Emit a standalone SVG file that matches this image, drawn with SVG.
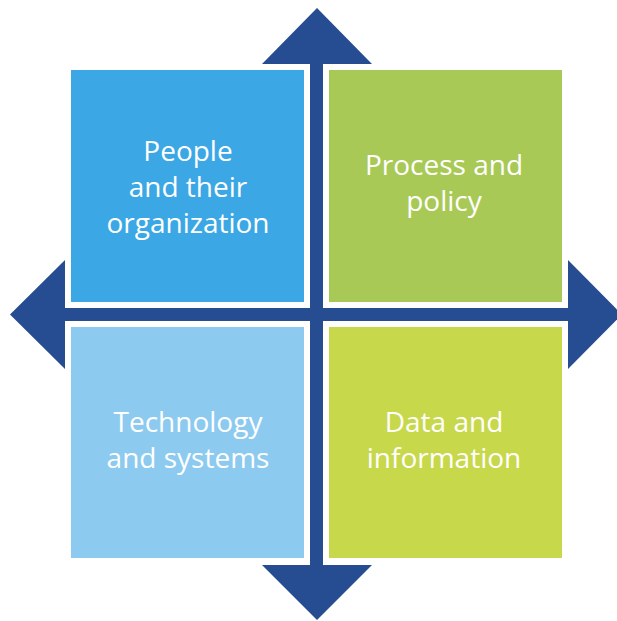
<svg xmlns="http://www.w3.org/2000/svg" width="617" height="621" viewBox="0 0 617 621">
  <style>
    .arrow { fill: #264C92; }
    .frame { fill: #FFFFFF; }
    .label { font-family: "Open Sans", "Noto Sans", "Liberation Sans", sans-serif; font-size: 28px; fill: #FFFFFF; text-anchor: middle; }
  </style>
  <rect width="617" height="621" fill="#FFFFFF"/>
  <g id="connectors">
    <rect class="arrow" x="310" y="40" width="13" height="550"/>
    <rect class="arrow" x="40" y="307.5" width="550" height="14"/>
    <polygon class="arrow" points="262,64 317,8 372,64"/>
    <polygon class="arrow" points="66,259 10,314.5 66,370"/>
    <polygon class="arrow" points="567,259 622,314.5 567,370"/>
    <polygon class="arrow" points="262,565 317,620 372,565"/>
  </g>
  <g id="people">
    <rect class="frame" x="65" y="64" width="245" height="244"/>
    <rect x="71" y="70" width="233" height="232" fill="#3BA7E5"/>
    <text class="label" x="188" y="161">People</text>
    <text class="label" x="188" y="197">and their</text>
    <text class="label" x="188" y="233">organization</text>
  </g>
  <g id="process">
    <rect class="frame" x="323" y="64" width="245" height="244"/>
    <rect x="329" y="70" width="233" height="232" fill="#A9C957"/>
    <text class="label" x="444" y="175">Process and</text>
    <text class="label" x="444" y="211">policy</text>
  </g>
  <g id="technology">
    <rect class="frame" x="65" y="321" width="245" height="243"/>
    <rect x="71" y="327" width="233" height="231" fill="#8DCAF0"/>
    <text class="label" x="188" y="432">Technology</text>
    <text class="label" x="188" y="468">and systems</text>
  </g>
  <g id="data">
    <rect class="frame" x="323" y="321" width="245" height="243"/>
    <rect x="329" y="327" width="233" height="231" fill="#C8D84B"/>
    <text class="label" x="444" y="432">Data and</text>
    <text class="label" x="444" y="468">information</text>
  </g>
</svg>
